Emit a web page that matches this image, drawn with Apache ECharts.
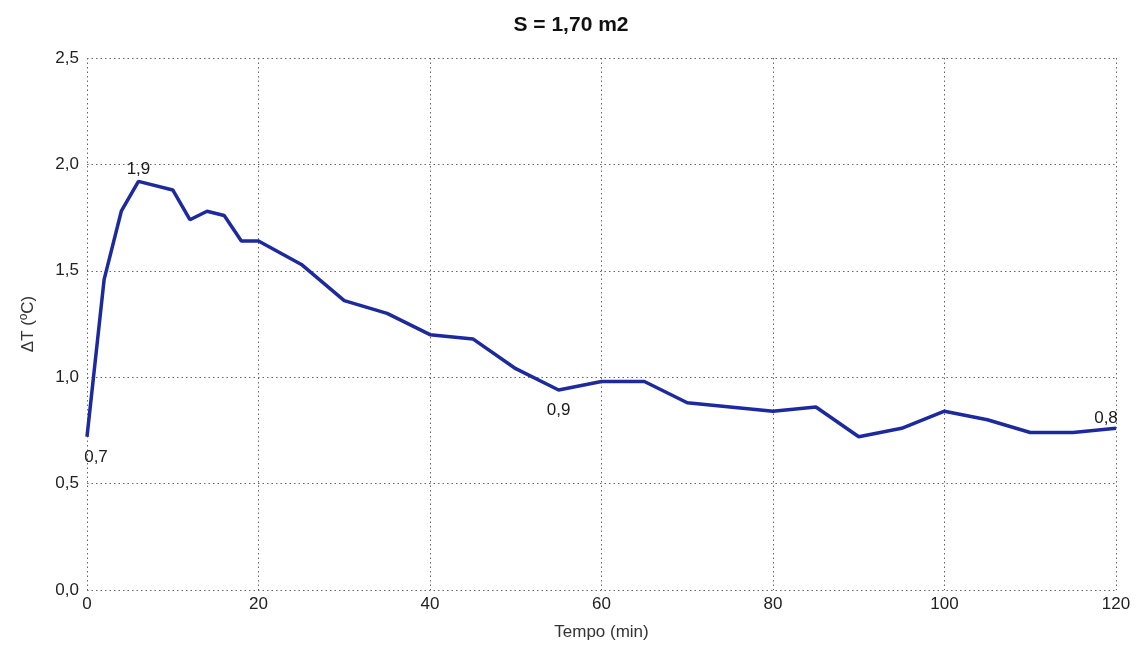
<!DOCTYPE html>
<html><head><meta charset="utf-8">
<script src="https://cdn.jsdelivr.net/npm/echarts@6/dist/echarts.min.js"></script>
<style>html,body{margin:0;padding:0;background:#fff}#c{width:1142px;height:646px}</style>
</head><body><div id="c"></div>
<script>
const titleText = 'S = 1,70 m2';
const xName = 'Tempo (min)';
const yName = 'ΔT (ºC)';
const times = [0, 2, 4, 6, 10, 12, 14, 16, 18, 20, 25, 30, 35, 40, 45, 50, 55, 60, 65, 70, 75, 80, 85, 90, 95, 100, 105, 110, 115, 120];
const deltaT = [0.72, 1.46, 1.78, 1.92, 1.88, 1.74, 1.78, 1.76, 1.64, 1.64, 1.53, 1.36, 1.30, 1.20, 1.18, 1.04, 0.94, 0.98, 0.98, 0.88, 0.86, 0.84, 0.86, 0.72, 0.76, 0.84, 0.80, 0.74, 0.74, 0.76];
const labeledTimes = [0, 6, 55, 120];

const fmt = v => v.toFixed(1).replace('.', ',');
const labelFont = "'Liberation Sans', Arial, sans-serif";

const posFor = t => {
  if (t === 0) return {position: 'bottom', offset: [9, 7]};
  if (t === 6) return {position: 'top', offset: [0, 2]};
  if (t === 55) return {position: 'bottom', offset: [0, 6]};
  return {position: 'top', offset: [-10, 4]};
};

const lineData = times.map((t, i) => [t, deltaT[i]]);
const labelData = times.map((t, i) => ({t, v: deltaT[i]}))
  .filter(d => labeledTimes.includes(d.t))
  .map(d => {
    const p = posFor(d.t);
    return {value: [d.t, d.v], label: {position: p.position, offset: p.offset}};
  });

const chart = echarts.init(document.getElementById('c'), null, {renderer: 'canvas'});
const gridLine = {show: true, lineStyle: {color: '#666', type: [1.5, 3], width: 1}};
chart.setOption({
  animation: false,
  backgroundColor: '#fff',
  title: {text: titleText, left: 'center', top: 10,
    textStyle: {fontFamily: "'Liberation Sans', Arial, sans-serif", fontWeight: 'bold', fontSize: 21, color: '#111'}},
  grid: {left: 87, right: 26, top: 58, bottom: 52, containLabel: false},
  xAxis: {
    type: 'value', min: 0, max: 120, interval: 20,
    name: xName, nameLocation: 'middle', nameGap: 34,
    nameTextStyle: {fontFamily: labelFont, fontSize: 17, color: '#333'},
    axisLine: {show: false}, axisTick: {show: false},
    axisLabel: {fontFamily: labelFont, fontSize: 17, color: '#222', margin: 6},
    splitLine: gridLine
  },
  yAxis: {
    type: 'value', min: 0, max: 2.5, interval: 0.5,
    name: yName, nameLocation: 'middle', nameGap: 50,
    nameTextStyle: {fontFamily: labelFont, fontSize: 17, color: '#333'},
    axisLine: {show: false}, axisTick: {show: false},
    axisLabel: {fontFamily: labelFont, fontSize: 17, color: '#222', margin: 8, formatter: v => fmt(v)},
    splitLine: gridLine
  },
  series: [{
    type: 'line', data: lineData, showSymbol: false, symbol: 'none',
    lineStyle: {color: '#1c2a9e', width: 3.5},
    itemStyle: {color: '#1c2a9e'}
  }, {
    type: 'scatter', data: labelData, symbolSize: 1, z: 5,
    itemStyle: {color: '#ffffff', opacity: 0.001},
    label: {show: true, fontSize: 17, color: '#1a1a1a', opacity: 1, fontFamily: labelFont,
      formatter: p => fmt(p.value[1])}
  }]
});
</script></body></html>
